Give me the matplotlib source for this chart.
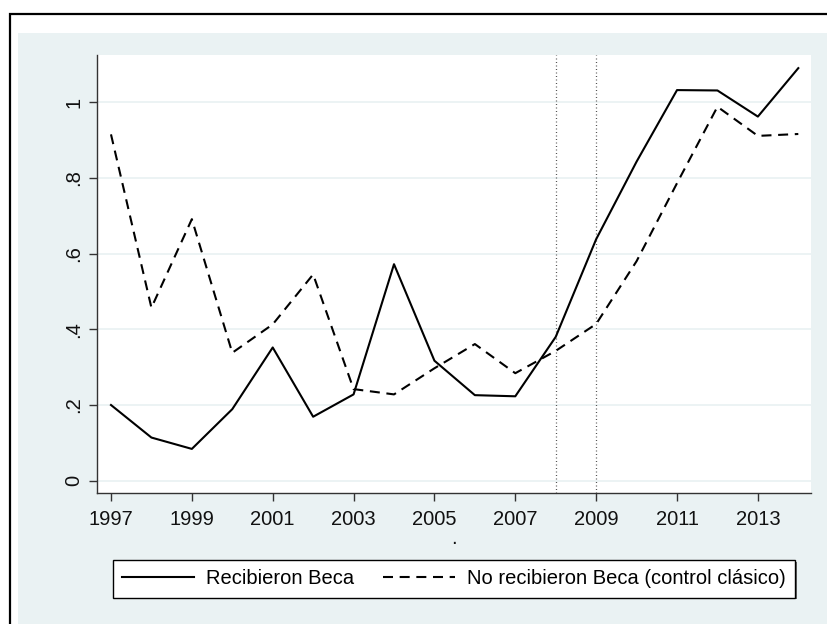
import matplotlib
matplotlib.use("Agg")
import matplotlib.pyplot as plt
from matplotlib.patches import Rectangle
from matplotlib import patheffects

plt.rcParams['font.family'] = ['Liberation Sans', 'DejaVu Sans']

years = [1997, 1998, 1999, 2000, 2001, 2002, 2003, 2004, 2005,
         2006, 2007, 2008, 2009, 2010, 2011, 2012, 2013, 2014]
recibieron = [0.200, 0.114, 0.084, 0.189, 0.352, 0.169, 0.228, 0.572, 0.317,
              0.226, 0.223, 0.380, 0.638, 0.843, 1.032, 1.031, 0.962, 1.090]
no_recibieron = [0.915, 0.457, 0.691, 0.338, 0.413, 0.545, 0.242, 0.228, 0.297,
                 0.361, 0.284, 0.343, 0.414, 0.580, 0.786, 0.988, 0.911, 0.916]
ref_years = [2008, 2009]
yticks = [0, 0.2, 0.4, 0.6, 0.8, 1.0]
ytick_labels = ["0", ".2", ".4", ".6", ".8", "1"]
xticks = [1997, 1999, 2001, 2003, 2005, 2007, 2009, 2011, 2013]
label_rec = "Recibieron Beca"
label_no = "No recibieron Beca (control clásico)"

W, H = 827, 624
fig = plt.figure(figsize=(W / 100, H / 100), dpi=100)
fig.patch.set_facecolor("white")

bg = "#EAF2F3"
# outer frame and graph region
fig.add_artist(Rectangle((10 / W, -0.1), 1.2, 1 - 14 / H + 0.1,
                         transform=fig.transFigure, facecolor="white",
                         edgecolor="black", lw=1.6, clip_on=False, zorder=0))
fig.add_artist(Rectangle((18 / W, -0.1), 1.2, 1 - 33 / H + 0.1,
                         transform=fig.transFigure, facecolor=bg,
                         edgecolor="none", clip_on=False, zorder=0.5))

left, right, top, bottom = 97, 811, 55, 493
ax = fig.add_axes([left / W, 1 - bottom / H, (right - left) / W, (bottom - top) / H])
ax.set_facecolor("white")
ax.set_zorder(1)

ax.set_xlim(1996.654, 2014.314)
ax.set_ylim(-0.0325, 1.1247)

for v in yticks:
    ax.axhline(v, color=bg, lw=1.3, zorder=1)

for xr in ref_years:
    ax.axvline(xr, color="#555555", lw=0.9, linestyle=(0, (0.8, 2.0)), zorder=2)

ax.plot(years, recibieron, color="black", lw=1.5, label=label_rec, zorder=3)
ln, = ax.plot(years, no_recibieron, color="black", lw=1.5, label=label_no, zorder=3)
ln.set_dashes((4.8, 3.2))

for s in ["top", "right"]:
    ax.spines[s].set_visible(False)
for s in ["left", "bottom"]:
    ax.spines[s].set_color("#333333")
    ax.spines[s].set_linewidth(1.0)

ax.set_yticks(yticks)
ax.set_yticklabels(ytick_labels, rotation=90, va="center")
ax.set_xticks(xticks)
ax.tick_params(axis="both", direction="out", length=6, width=1.0,
               color="#333333", labelsize=14.5, labelcolor="#111111", pad=4)
ax.tick_params(axis="x", pad=6)
ax.set_xlabel(".", fontsize=14.5, labelpad=0, color="#111111")

leg = ax.legend(loc="center", bbox_to_anchor=((104 + 804) / 2 / W, 1 - 579 / H),
                bbox_transform=fig.transFigure, ncol=2, fontsize=14.5,
                frameon=True, fancybox=False, edgecolor="black",
                facecolor="white", framealpha=1.0,
                handlelength=3.6, handletextpad=0.6, columnspacing=1.4,
                borderpad=0.45, borderaxespad=0)
frame = leg.get_frame()
frame.set_linewidth(1.0)
frame.set_path_effects([
    patheffects.SimplePatchShadow(offset=(1.2, -1.2), shadow_rgbFace="#666666", alpha=1.0),
    patheffects.Normal(),
])

fig.savefig("out.png", dpi=100, facecolor="white")
